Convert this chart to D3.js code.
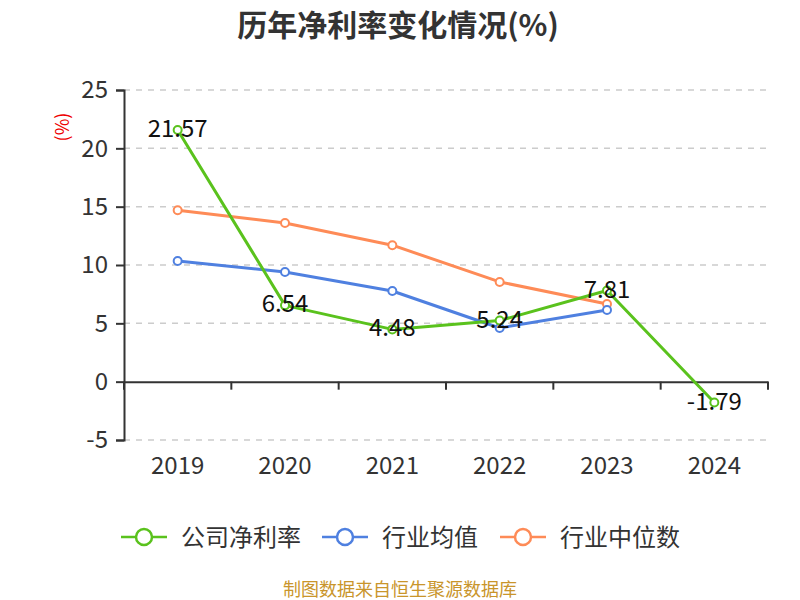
<!DOCTYPE html>
<meta charset="utf-8" />
<script src="https://d3js.org/d3.v7.min.js"></script>
<body style="margin:0;background:#fff">
<svg id="chart" width="800" height="600"></svg>
<script>
/* data ------------------------------------------------------------------- */
const years=["2019","2020","2021","2022","2023","2024"];
const company=[21.57,6.54,4.48,5.24,7.81,-1.79];
const industryAvg=[10.35,9.4,7.77,4.6,6.15,null];
const industryMed=[14.7,13.6,11.7,8.55,6.65,null];
const yTicks=[-5,0,5,10,15,20,25];
const seriesNames=["公司净利率","行业均值","行业中位数"];
const colours=["#5ac21d","#4f80e0","#fe8b57"];

const font="'Noto Sans CJK SC','Noto Sans',sans-serif";
const svg=d3.select("#chart").style("font-family",font);
const m={l:124,r:32};
const W=800;

const x=d3.scaleBand(years,[m.l,W-m.r]);
const y=d3.scaleLinear([-5,25],[440,90]);

/* title */
svg.append("text").attr("x",398).attr("y",36).attr("text-anchor","middle")
  .attr("font-size",30).attr("font-weight","bold").attr("fill","#333")
  .text("历年净利率变化情况(%)");

/* unit label */
svg.append("text").attr("transform","translate(69,127) rotate(-90)")
  .attr("text-anchor","middle").attr("font-size",18).attr("fill","#e00")
  .text("(%)");

/* grid ------------------------------------------------------------------- */
svg.append("g").selectAll("line").data(yTicks.filter(d=>d!==0)).join("line")
  .attr("x1",m.l).attr("x2",W-m.r)
  .attr("y1",d=>y(d)).attr("y2",d=>y(d))
  .attr("stroke","#ccc").attr("stroke-width",1.5).attr("stroke-dasharray","6,6");

/* y axis */
const yAxis=svg.append("g").attr("transform",`translate(${m.l},0)`)
  .call(d3.axisLeft(y).tickValues(yTicks).tickSize(8).tickPadding(8).tickFormat(d=>String(d)));
yAxis.select(".domain").attr("stroke","#333").attr("stroke-width",2);
yAxis.selectAll(".tick line").attr("stroke","#333").attr("stroke-width",2);
yAxis.selectAll("text").attr("font-size",24).attr("fill","#333").attr("font-family",font);

/* x axis at zero */
const xAxis=svg.append("g").attr("transform",`translate(0,${y(0)})`)
  .call(d3.axisBottom(x).tickSize(0).tickFormat(""));
xAxis.select(".domain").attr("stroke","#333").attr("stroke-width",2);
const bounds=years.map(d=>x(d)).concat([W-m.r]);
svg.append("g").selectAll("line").data(bounds).join("line")
  .attr("x1",d=>d).attr("x2",d=>d).attr("y1",y(0)).attr("y2",y(0)+8)
  .attr("stroke","#333").attr("stroke-width",2);
svg.append("g").selectAll("text").data(years).join("text")
  .attr("x",d=>x(d)+x.bandwidth()/2).attr("y",474).attr("text-anchor","middle")
  .attr("font-size",24).attr("fill","#333").text(d=>d);

/* lines ------------------------------------------------------------------ */
const allSeries=[company,industryAvg,industryMed];
const line=d3.line().defined(d=>d.v!=null)
  .x(d=>x(d.yr)+x.bandwidth()/2).y(d=>y(d.v));

// draw in reverse so company line sits on top
[2,1,0].forEach(k=>{
  const pts=years.map((yr,i)=>({yr,v:allSeries[k][i]}));
  const g=svg.append("g");
  g.append("path").datum(pts).attr("d",line).attr("fill","none")
    .attr("stroke",colours[k]).attr("stroke-width",3).attr("stroke-linejoin","round");
  g.selectAll("circle").data(pts.filter(d=>d.v!=null)).join("circle")
    .attr("cx",d=>x(d.yr)+x.bandwidth()/2).attr("cy",d=>y(d.v)).attr("r",4)
    .attr("fill","#fff").attr("stroke",colours[k]).attr("stroke-width",2);
});

/* company value labels */
svg.append("g").selectAll("text").data(years.map((yr,i)=>({yr,v:company[i]}))).join("text")
  .attr("x",d=>x(d.yr)+x.bandwidth()/2).attr("y",d=>y(d.v)+7)
  .attr("text-anchor","middle").attr("font-size",24).attr("fill","#111")
  .text(d=>d.v.toFixed(2));

/* legend ----------------------------------------------------------------- */
const legX=[121,322,500];
const leg=svg.append("g").selectAll("g").data(seriesNames).join("g")
  .attr("transform",(d,i)=>`translate(${legX[i]},537)`);
leg.append("line").attr("x1",0).attr("x2",46).attr("stroke",(d,i)=>colours[i]).attr("stroke-width",2.5);
leg.append("circle").attr("cx",23).attr("r",8).attr("fill","#fff")
  .attr("stroke",(d,i)=>colours[i]).attr("stroke-width",2.5);
leg.append("text").attr("x",60).attr("y",9).attr("font-size",24).attr("fill","#333").text(d=>d);

/* footer */
svg.append("text").attr("x",400).attr("y",596).attr("text-anchor","middle")
  .attr("font-size",18).attr("fill","#c9952b").text("制图数据来自恒生聚源数据库");
</script>
</body>
